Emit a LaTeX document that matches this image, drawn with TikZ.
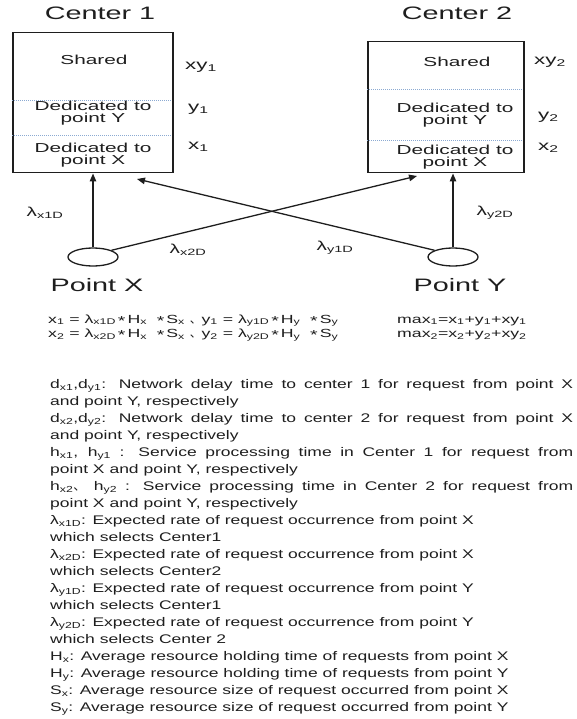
\documentclass[tikz,border=0pt]{standalone}
\usepackage{fontspec}
\setmainfont{Liberation Sans}
\newfontfamily\fdiag{Liberation Sans}[FakeStretch=1.6]
\newfontfamily\fbody{Liberation Sans}[FakeStretch=1.4]
\newfontfamily\feq{Liberation Sans}[FakeStretch=1.5]
\newfontfamily\cjk{Noto Sans CJK SC}
\usetikzlibrary{arrows.meta,shapes.geometric}
\definecolor{sepblue}{RGB}{140,170,210}
\definecolor{ink}{RGB}{30,30,30}
\newcommand\st{{\fontsize{13}{13}\selectfont\raisebox{-0.35ex}{*}}}
\newcommand\sub[1]{\textsubscript{#1}}
\begin{document}
\begin{tikzpicture}[x=1pt,y=-1pt,
  box/.style={draw=ink, line width=1.5pt, inner sep=0pt},
  sepline/.style={draw=sepblue, dash pattern=on 1pt off 1pt, line width=0.7pt},
  lbl/.style={font=\fdiag\fontsize{13}{11.5}\selectfont, inner sep=0pt, align=center, text=ink},
  side/.style={font=\fdiag\fontsize{14}{14}\selectfont, inner sep=0pt, anchor=west, text=ink},
  ttl/.style={font=\fdiag\fontsize{18}{20}\selectfont, inner sep=0pt, text=ink},
  arr/.style={draw=ink, line width=1.3pt, -{Triangle[length=8pt,width=6.5pt]}},
  pt/.style={draw=ink, ellipse, line width=1.3pt, minimum width=50pt, minimum height=18pt, inner sep=0pt},
  eq/.style={font=\feq\fontsize{11.8}{11}\selectfont, inner sep=0pt, anchor=base west, text=ink},
  body/.style={font=\fbody\fontsize{12.5}{17}\selectfont, inner sep=0pt, anchor=base west, text=ink}]
\useasboundingbox (0,0) rectangle (576,719);

% titles
\node[ttl] (t1) at (100,13) {Center 1};
\node[ttl] (t2) at (457,13) {Center 2};

% boxes
\node[box, anchor=north west, minimum width=160pt, minimum height=140pt] (c1) at (12,32) {};
\node[box, anchor=north west, minimum width=156pt, minimum height=131pt] (c2) at (367,41) {};
\draw[sepline] (12,100.5) -- (172,100.5);
\draw[sepline] (12,135) -- (172,135);
\draw[sepline] (367,89.5) -- (523,89.5);
\draw[sepline] (367,140) -- (523,140);

\node[lbl] (c1s) at (94,60) {Shared};
\node[lbl] (c1y) at (93,113) {Dedicated to\\point Y};
\node[lbl] (c1x) at (93,155) {Dedicated to\\point X};
\node[lbl] (c2s) at (457,62) {Shared};
\node[lbl] (c2y) at (455,115) {Dedicated to\\point Y};
\node[lbl] (c2x) at (455,157) {Dedicated to\\point X};

\node[side] (xy1) at (185,67) {xy\sub{1}};
\node[side] (y1) at (188,109) {y\sub{1}};
\node[side] (x1) at (188,147) {x\sub{1}};
\node[side] (xy2) at (534,62) {xy\sub{2}};
\node[side] (y2) at (538,117) {y\sub{2}};
\node[side] (x2) at (538,148) {x\sub{2}};

% points
\node[pt] (px) at (93,257) {};
\node[pt] (py) at (453,257) {};
\node[ttl] (pxl) at (97,285) {Point X};
\node[ttl] (pyl) at (460,285) {Point Y};

\coordinate (a1) at (137,179);
\coordinate (a2) at (417,176);
\draw[arr] (px.north) -- (px.north |- c1.south);
\draw[arr] (py.north) -- (py.north |- c2.south);
\draw[arr] (px.20) -- (a2);
\draw[arr] (py.160) -- (a1);

\node[lbl] (lx1) at (45,213) {λ\sub{x1D}};
\node[lbl] (lx2) at (188,250) {λ\sub{x2D}};
\node[lbl] (ly1) at (335,248) {λ\sub{y1D}};
\node[lbl] (ly2) at (495,213) {λ\sub{y2D}};

% equations
\node[eq] (e1) at (48,323) {x\sub{1} = λ\sub{x1D}\,\st\,H\sub{x} \ \st\,S\sub{x} {\cjk 、}y\sub{1} = λ\sub{y1D}\,\st\,H\sub{y} \ \st\,S\sub{y}};
\node[eq] (e2) at (48,337.5) {x\sub{2} = λ\sub{x2D}\,\st\,H\sub{x} \ \st\,S\sub{x} {\cjk 、}y\sub{2} = λ\sub{y2D}\,\st\,H\sub{y} \ \st\,S\sub{y}};
\node[eq] (m1) at (397,323) {max\sub{1}=x\sub{1}+y\sub{1}+xy\sub{1}};
\node[eq] (m2) at (397,337.5) {max\sub{2}=x\sub{2}+y\sub{2}+xy\sub{2}};

% description
\node[body] (d1) at (50,388.5) {\makebox[523pt][s]{d\sub{x1},d\sub{y1}: Network delay time to center 1 for request from point X}};
\node[body] (d2) at (50,405.5) {and point Y, respectively};
\node[body] (d3) at (50,422.5) {\makebox[523pt][s]{d\sub{x2},d\sub{y2}: Network delay time to center 2 for request from point X}};
\node[body] (d4) at (50,439.5) {and point Y, respectively};
\node[body] (d5) at (50,456.5) {\makebox[523pt][s]{h\sub{x1}, h\sub{y1} : Service processing time in Center 1 for request from}};
\node[body] (d6) at (50,473.5) {point X and point Y, respectively};
\node[body] (d7) at (50,490.5) {\makebox[523pt][s]{h\sub{x2}{\cjk 、} h\sub{y2} : Service processing time in Center 2 for request from}};
\node[body] (d8) at (50,507.5) {point X and point Y, respectively};
\node[body] (d9) at (50,524.5) {λ\sub{x1D}: Expected rate of request occurrence from point X};
\node[body] (d10) at (50,541.5) {which selects Center1};
\node[body] (d11) at (50,558.5) {λ\sub{x2D}: Expected rate of request occurrence from point X};
\node[body] (d12) at (50,575.5) {which selects Center2};
\node[body] (d13) at (50,592.5) {λ\sub{y1D}: Expected rate of request occurrence from point Y};
\node[body] (d14) at (50,609.5) {which selects Center1};
\node[body] (d15) at (50,626.5) {λ\sub{y2D}: Expected rate of request occurrence from point Y};
\node[body] (d16) at (50,643.5) {which selects Center 2};
\node[body] (d17) at (50,660.5) {H\sub{x}: Average resource holding time of requests from point X};
\node[body] (d18) at (50,677.5) {H\sub{y}: Average resource holding time of requests from point Y};
\node[body] (d19) at (50,694.5) {S\sub{x}: Average resource size of request occurred from point X};
\node[body] (d20) at (50,711.5) {S\sub{y}: Average resource size of request occurred from point Y};
\end{tikzpicture}
\end{document}
